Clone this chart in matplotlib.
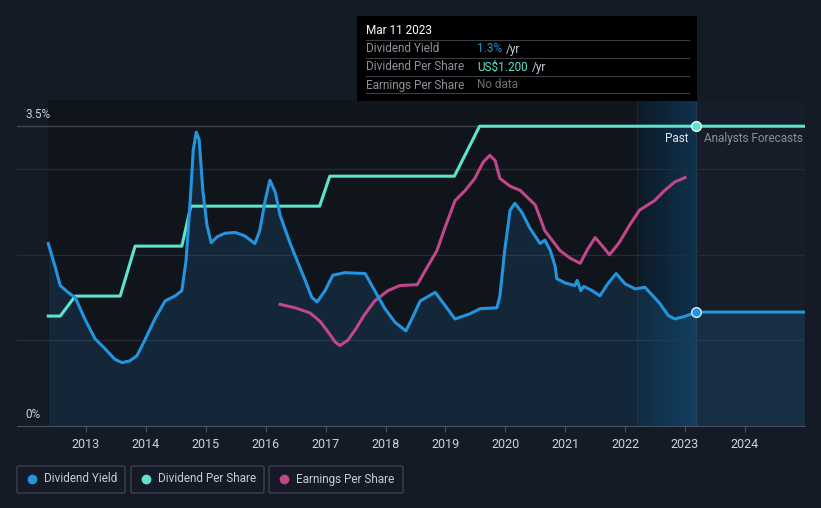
import numpy as np
import matplotlib
matplotlib.use('Agg')
import matplotlib.pyplot as plt
from matplotlib.patches import FancyBboxPatch, Rectangle
from matplotlib.colors import LinearSegmentedColormap

plt.rcParams['font.family'] = ['Roboto', 'DejaVu Sans']

# dividend yield (%)
dy_years = [2012.37, 2012.48, 2012.57, 2012.70, 2012.82, 2012.98, 2013.15, 2013.32, 2013.48,
            2013.60, 2013.73, 2013.85, 2013.98, 2014.15, 2014.32, 2014.49, 2014.60, 2014.67,
            2014.74, 2014.79, 2014.84, 2014.89, 2014.95, 2015.02, 2015.09, 2015.19, 2015.32,
            2015.49, 2015.65, 2015.82, 2015.90, 2015.99, 2016.07, 2016.16, 2016.24, 2016.41,
            2016.49, 2016.66, 2016.77, 2016.86, 2016.99, 2017.12, 2017.32, 2017.66, 2017.82,
            2017.99, 2018.16, 2018.34, 2018.44, 2018.58, 2018.83, 2018.99, 2019.16, 2019.41,
            2019.58, 2019.86, 2019.91, 2019.99, 2020.08, 2020.16, 2020.28, 2020.41, 2020.58,
            2020.66, 2020.75, 2020.83, 2020.86, 2021.00, 2021.16, 2021.20, 2021.26, 2021.31,
            2021.45, 2021.58, 2021.71, 2021.85, 2022.00, 2022.17, 2022.33, 2022.45, 2022.58,
            2022.72, 2022.83, 2023.00, 2023.19, 2024.99]
dy_values = [2.13, 1.87, 1.64, 1.56, 1.50, 1.25, 1.02, 0.90, 0.78, 0.74, 0.76, 0.82, 1.00,
             1.25, 1.46, 1.52, 1.58, 1.93, 2.63, 3.22, 3.43, 3.34, 2.75, 2.34, 2.14, 2.21,
             2.25, 2.26, 2.22, 2.13, 2.28, 2.63, 2.87, 2.73, 2.46, 2.13, 1.99, 1.70, 1.50,
             1.45, 1.58, 1.76, 1.79, 1.78, 1.58, 1.37, 1.21, 1.11, 1.25, 1.46, 1.56, 1.41,
             1.25, 1.31, 1.37, 1.38, 1.52, 2.05, 2.52, 2.60, 2.49, 2.31, 2.13, 2.17, 2.05,
             1.87, 1.72, 1.67, 1.64, 1.70, 1.58, 1.63, 1.58, 1.52, 1.66, 1.78, 1.66, 1.60,
             1.62, 1.53, 1.43, 1.29, 1.25, 1.28, 1.33, 1.33]

# dividend per share (US$), step changes
dps_years = [2012.37, 2012.57, 2012.82, 2013.57, 2013.82, 2014.60, 2014.75, 2016.90, 2017.07,
             2019.15, 2019.57, 2024.99]
dps_values = [0.44, 0.44, 0.52, 0.52, 0.72, 0.72, 0.88, 0.88, 1.00, 1.00, 1.20, 1.20]

# earnings per share (drawn on its own scale)
eps_years = [2016.24, 2016.49, 2016.74, 2016.91, 2017.04, 2017.16, 2017.24, 2017.37, 2017.51,
             2017.64, 2017.82, 2018.04, 2018.24, 2018.53, 2018.66, 2018.86, 2018.99, 2019.16,
             2019.33, 2019.49, 2019.63, 2019.74, 2019.83, 2019.91, 2020.08, 2020.25, 2020.50,
             2020.66, 2020.91, 2021.08, 2021.25, 2021.38, 2021.50, 2021.61, 2021.74, 2021.90,
             2022.07, 2022.24, 2022.49, 2022.66, 2022.83, 2023.00]
eps_values = [1.42, 1.38, 1.32, 1.22, 1.10, 0.98, 0.94, 1.00, 1.14, 1.29, 1.46, 1.58, 1.64,
              1.65, 1.81, 2.05, 2.31, 2.63, 2.75, 2.89, 3.08, 3.16, 3.10, 2.89, 2.80, 2.75,
              2.58, 2.28, 2.05, 1.96, 1.90, 2.07, 2.20, 2.11, 2.00, 2.14, 2.34, 2.52, 2.63,
              2.75, 2.85, 2.90]

year_ticks = list(range(2013, 2025))

BG = '#151b26'
BLUE = '#2394df'
TEAL = '#5de4cc'
PINK = '#c2468a'

fig = plt.figure(figsize=(8.21, 5.08), dpi=100, facecolor=BG)
ax = fig.add_axes([17/821, 82/508, 788/821, 326/508])
ax.set_facecolor(BG)

x0, x1 = 2011.848, 2025.003
ytop = 3.806
ax.set_xlim(x0, x1)
ax.set_ylim(0, ytop)

past_end = 2023.19
ax.axvspan(dy_years[0], past_end, color='#10141b', zorder=0, lw=0)
ax.axvspan(past_end, x1, color='#161d28', zorder=0, lw=0)
# highlighted band before "today"
grad = np.linspace(0, 1, 100).reshape(1, -1)
ax.imshow(grad, extent=[2022.2, past_end, 0, ytop], aspect='auto',
          cmap=LinearSegmentedColormap.from_list('b', ['#0d1a26', '#0f324d']), zorder=0.5)
ax.axvline(2022.2, color='#1b2735', lw=1, zorder=0.6)
ax.axvline(past_end, color='#21384f', lw=1, zorder=1)

# grid lines
for g in [1, 2, 3]:
    ax.axhline(g, color='#262c37', lw=1, zorder=1)
ax.axhline(3.5, color='#3f4550', lw=1, zorder=1)

dps_scale = 3.5 / 1.2

ax.fill_between(dy_years, dy_values, 0, color='#1f6ea8', alpha=0.22, lw=0, zorder=2)
ax.plot(dy_years, dy_values, color=BLUE, lw=2.2, zorder=4, solid_joinstyle='round')
ax.plot(dps_years, np.array(dps_values) * dps_scale, color=TEAL, lw=2.2, zorder=3,
        solid_joinstyle='round')
ax.plot(eps_years, eps_values, color=PINK, lw=2.2, zorder=3, solid_joinstyle='round')

ax.plot([past_end], [dy_values[-2]], 'o', ms=7, mfc=BLUE, mec='#dbe9f5', mew=1, zorder=5)
ax.plot([past_end], [1.2 * dps_scale], 'o', ms=7, mfc=TEAL, mec='#e8fbf7', mew=1, zorder=5)

for s in ['top', 'right', 'left']:
    ax.spines[s].set_visible(False)
ax.spines['bottom'].set_color('#4a505b')
ax.set_yticks([])
ax.set_xticks(year_ticks)
ax.set_xticklabels([str(y) for y in year_ticks])
ax.tick_params(axis='x', colors='#4a505b', labelcolor='#d0d3d8', labelsize=9, length=4, pad=5)

fig.text(25/821, 1 - 114/508, '3.5%', color='#d0d3d8', fontsize=8.5, va='center')
fig.text(25/821, 1 - 414/508, '0%', color='#d0d3d8', fontsize=8.5, va='center')

ax.text(past_end - 0.14, 3.36, 'Past', color='#e6e8eb', fontsize=8.5, ha='right', va='center')
ax.text(past_end + 0.12, 3.36, 'Analysts Forecasts', color='#8a9099', fontsize=8.5,
        ha='left', va='center')

# tooltip
fig.patches.append(Rectangle((357/821, 1 - 101/508), 340/821, 85/508, transform=fig.transFigure,
                             facecolor='#000000', edgecolor='none', zorder=10))
fig.text(366/821, 1 - 31/508, 'Mar 11 2023', color='white', fontsize=8.5, va='center', zorder=11)
rows = [('Dividend Yield', '1.3%', BLUE), ('Dividend Per Share', 'US$1.200', TEAL),
        ('Earnings Per Share', 'No data', '#6b7079')]
renderer = fig.canvas.get_renderer()
for i, (lab, val, col) in enumerate(rows):
    yy = 49 + i * 18
    fig.add_artist(plt.Line2D([366/821, 689/821], [1 - (yy - 9)/508] * 2, color='#3a3f47', lw=0.8,
                              transform=fig.transFigure, zorder=11))
    fig.text(366/821, 1 - yy/508, lab, color='#8d929a', fontsize=8.5, va='center', zorder=11)
    t = fig.text(477/821, 1 - yy/508, val, color=col, fontsize=8.5, va='center', zorder=11)
    if val != 'No data':
        bb = t.get_window_extent(renderer=renderer)
        fig.text((bb.x1 + 4) / 821, 1 - yy/508, '/yr', color='#c8ccd2', fontsize=8.5,
                 va='center', zorder=11)
fig.add_artist(plt.Line2D([366/821, 689/821], [1 - 93/508] * 2, color='#3a3f47', lw=0.8,
                          transform=fig.transFigure, zorder=11))

# legend boxes
legend = [('Dividend Yield', BLUE, 17, 108), ('Dividend Per Share', TEAL, 131, 133),
          ('Earnings Per Share', PINK, 269, 134)]
for lab, col, lx, w in legend:
    fig.patches.append(FancyBboxPatch((lx/821, 1 - 493/508), w/821, 27/508, transform=fig.transFigure,
                                      boxstyle='round,pad=0,rounding_size=0.003', facecolor='none',
                                      edgecolor='#3d434d', lw=1))
    fig.add_artist(plt.Line2D([(lx + 15)/821], [1 - 479/508], marker='o', ms=6, color=col,
                              transform=fig.transFigure))
    fig.text((lx + 27)/821, 1 - 479/508, lab, color='#c8ccd2', fontsize=8.5, va='center')

fig.savefig('out.png', dpi=100, facecolor=BG)
